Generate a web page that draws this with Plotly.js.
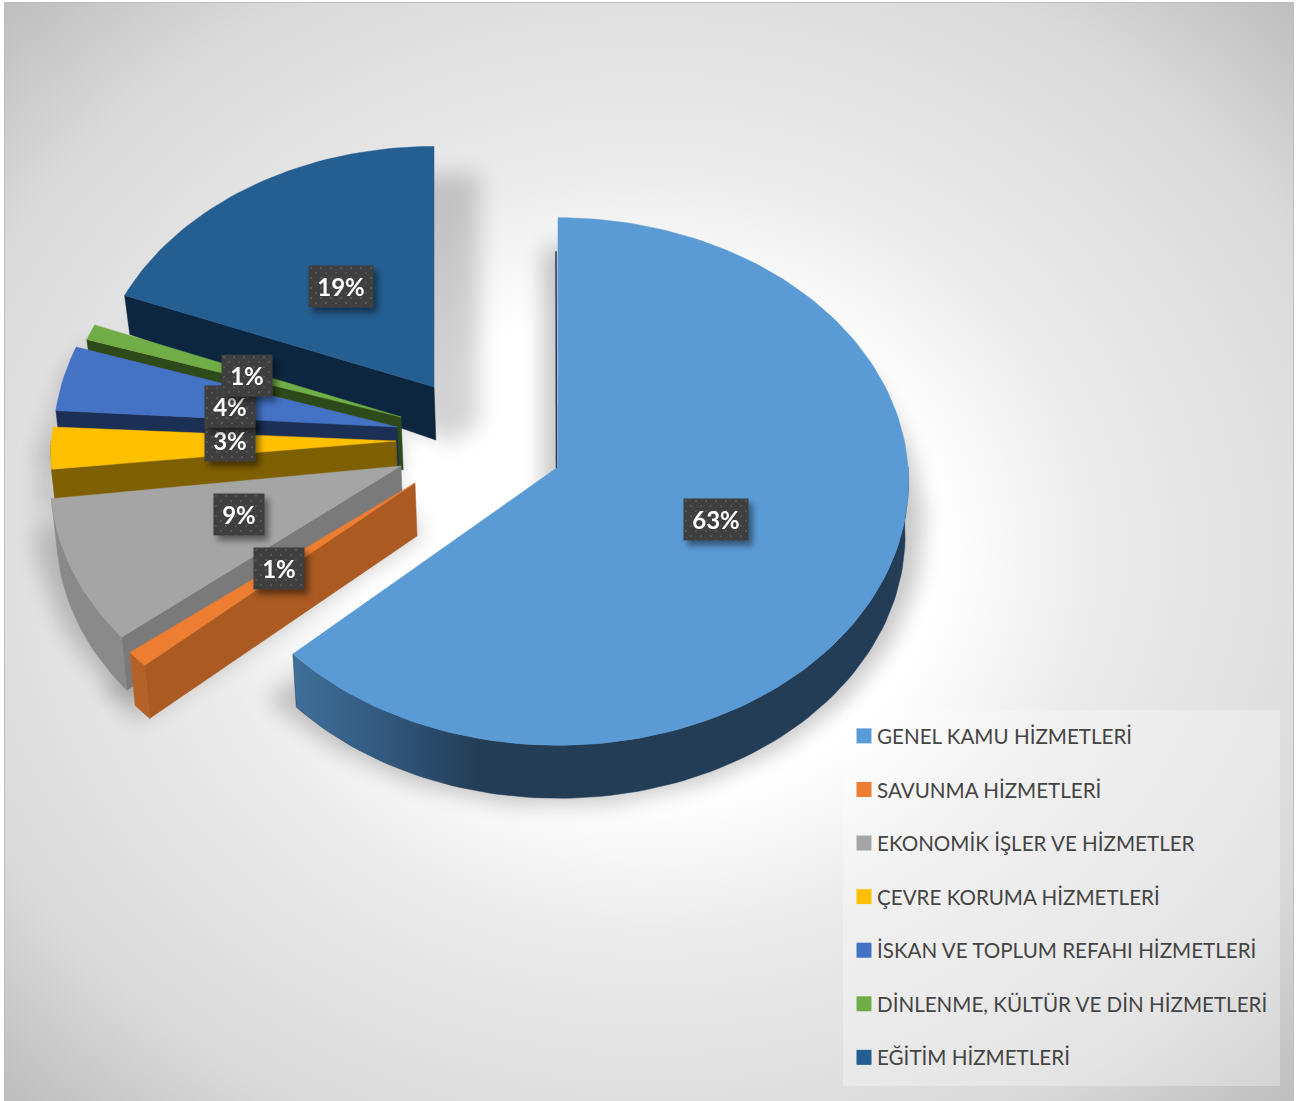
<!DOCTYPE html>
<html>
<head>
<meta charset="utf-8">
<script src="https://cdn.plot.ly/plotly-3.0.1.min.js"></script>
<style>
html,body{margin:0;padding:0;background:#fff;overflow:hidden}
#frame{position:absolute;left:4px;top:2px;width:1290px;height:1099px;box-sizing:border-box;border:1px solid #bdbdbd;border-bottom:none;
background:radial-gradient(ellipse 901px 770px at 646px 548px,#ffffff 0%,#ffffff 32%,#ebebeb 50%,#e0e0e0 70%,#d9d9d9 82%,#bfbfbf 100%);}
#chart{position:absolute;left:0;top:0;width:1297px;height:1101px}
.annotation{filter:drop-shadow(4px 5px 3px rgba(0,0,0,.45))}
.annotation rect.bg{fill:url(#dots) !important}
</style>
</head>
<body>
<svg width="0" height="0" style="position:absolute"><defs>
<pattern id="dots" width="10" height="10" patternUnits="userSpaceOnUse">
<rect width="10" height="10" fill="#3f3f3f"/><rect x="2" y="2" width="2" height="2" fill="#555"/><rect x="7" y="7" width="2" height="2" fill="#555"/>
</pattern></defs></svg>
<div id="frame"></div>
<div id="chart"></div>
<script>
// --- data ---
const categories = ["GENEL KAMU HİZMETLERİ","SAVUNMA HİZMETLERİ","EKONOMİK İŞLER VE HİZMETLER","ÇEVRE KORUMA HİZMETLERİ","İSKAN VE TOPLUM REFAHI HİZMETLERİ","DİNLENME, KÜLTÜR VE DİN HİZMETLERİ","EĞİTİM HİZMETLERİ"];
const values = [63,1,9,3,4,1,19];
// --- styles ---
const topColors  = ["#5b9bd5","#ed7d31","#a5a5a5","#ffc000","#4472c4","#70ad47","#255e91"];
const wallColors = ["#233d57","#ab5b22","#7a7a7a","#7f6000","#1c2f55","#2f4a1a","#0d2640"];
const arcColors  = ["#233d57","#b5622a","#8a8a8a","#7f6000","#1c2f55","#2f4a1a","#0d2640"];
// --- layout: exploded wedge apex positions (px) and per wedge size factors ---
const apexX = [558,415,401,396,397,401,434];
const apexY = [467,483,466,441,427,417,387];
const widthK = [1,1.02,1.0,0.985,0.98,0.96,0.97];
const heightK = [1,0.975,0.985,0.85,1,0.97,0.965];
const labelX = [716,279,239,230,230,247,341];
const labelY = [519,568,514,440,406,375,286];
const labelW = [64,50,50,50,50,50,64];
const shadowDY = [45,40,40,35,35,35,42];
const shadowOp = [0.22,0.2,0.2,0.12,0.12,0.12,0.17];
const RX=350, RY=263, PERSP=0.055, DEPTH=53;

const total = values.reduce((a,b)=>a+b,0);
function pt(i,deg){
  const t=deg*Math.PI/180,u=Math.sin(t),v=Math.cos(t),s=1/(1+PERSP*v);
  return [apexX[i]+RX*widthK[i]*u*s, apexY[i]-RY*heightK[i]*v*s, v];
}
function drop(p){
  const d=DEPTH-Math.max(0,p[2])*38;
  return [p[0]+(600-p[0])*0.011,p[1]+d];
}
function arc(i,a,b){
  const n=Math.max(2,Math.ceil(Math.abs(b-a)/1.5)),out=[];
  for(let k=0;k<=n;k++) out.push(pt(i,a+(b-a)*k/n));
  return out;
}
let start=0;
const spans=values.map(v=>{const s=[start,start+v/total*360];start=s[1];return s;});
const poly=(name,pts,color,extra)=>Object.assign({type:'scatter',mode:'lines',x:pts.map(p=>p[0]),y:pts.map(p=>p[1]),
  fill:'toself',fillcolor:color,line:{color:color,width:0.5},hoverinfo:'skip',showlegend:false,name:name},extra||{});

const traces=[];
// blurred soft shadows
values.forEach((v,i)=>{
  const a=arc(i,spans[i][0],spans[i][1]);
  const ap=[[apexX[i],apexY[i]]];
  const pts=ap.concat(a).concat(ap);
  traces.push({type:'scatter',mode:'lines',x:pts.map(p=>p[0]+(i==6?30:0)),y:pts.map(p=>p[1]+shadowDY[i]),fill:'toself',fillcolor:'#000',
    line:{color:'#000',width:30},opacity:shadowOp[i],hoverinfo:'skip',showlegend:false,name:'shadow'});
});
const nShadow=traces.length;
// wedges from back to front
for(let i=values.length-1;i>=0;i--){
  const [a0,a1]=spans[i];
  if(a0>180){
    const p=pt(i,a0),ap=[apexX[i],apexY[i],0];
    traces.push(poly(categories[i],[ap,p,drop(p),drop(ap),ap],wallColors[i]));
  }
  const w0=Math.max(a0,90),w1=Math.min(a1,270);
  if(w1>w0){
    const top=arc(i,w0,w1),bot=top.map(drop).reverse();
    const extra=i===0?{fillgradient:{type:'horizontal',colorscale:[[0,'#3f7099'],[0.12,'#345d84'],[0.3,'#233d57'],[1,'#233d57']]}}:{};
    traces.push(poly(categories[i],top.concat(bot).concat([top[0]]),arcColors[i],extra));
  }
  if(a0===0){
    // thin dark edge along the first radial side of the big wedge
    traces.push({type:'scatter',mode:'lines',x:[apexX[i]-1.5,apexX[i]-2],y:[apexY[i]+2,apexY[i]-RY*0.82],line:{color:'#1f3a55',width:1.5},hoverinfo:'skip',showlegend:false,name:categories[i]});
  }
  const ap=[apexX[i],apexY[i]];
  traces.push(poly(categories[i],[ap].concat(arc(i,a0,a1)).concat([ap]),topColors[i]));
}
// legend entries
categories.forEach((c,i)=>traces.push({type:'scatter',mode:'markers',x:[null],y:[null],name:c,legendgroup:'g'+i,
  marker:{symbol:'square',size:15,color:topColors[i]},hoverinfo:'skip',showlegend:true}));

const annotations=values.map((v,i)=>({x:labelX[i],y:labelY[i],xref:'x',yref:'y',showarrow:false,
  text:'<b>'+Math.round(v/total*100)+'%</b>',font:{family:'Lato',size:24,color:'#fff'},
  bgcolor:'#404040',width:labelW[i],height:41,align:'center',valign:'middle',borderpad:0}));

const layout={width:1297,height:1101,margin:{l:0,r:0,t:0,b:0},paper_bgcolor:'rgba(0,0,0,0)',plot_bgcolor:'rgba(0,0,0,0)',
  xaxis:{range:[0,1297],visible:false,fixedrange:true},
  yaxis:{range:[1101,0],visible:false,fixedrange:true},
  shapes:[{type:'rect',xref:'x',yref:'y',x0:843,x1:1280,y0:710,y1:1086,fillcolor:'rgba(255,255,255,0.3)',line:{width:0},layer:'above'}],
  annotations:annotations,
  legend:{x:852/1297,y:1-716/1101,xanchor:'left',yanchor:'top',bgcolor:'rgba(0,0,0,0)',borderwidth:0,traceorder:'grouped',
    tracegroupgap:23.8,indentation:-15,font:{family:'Lato',size:20.6,color:'#444'},itemclick:false,itemdoubleclick:false},
  showlegend:true};
Plotly.newPlot('chart',traces,layout,{displayModeBar:false}).then(gd=>{
  const ts=gd.querySelectorAll('.scatterlayer .trace');
  for(let k=0;k<nShadow;k++) ts[k].style.filter='blur(11px)';
  gd.querySelectorAll('.legendsymbols').forEach(s=>s.setAttribute('transform','translate(7,0)'));
});
</script>
</body>
</html>
